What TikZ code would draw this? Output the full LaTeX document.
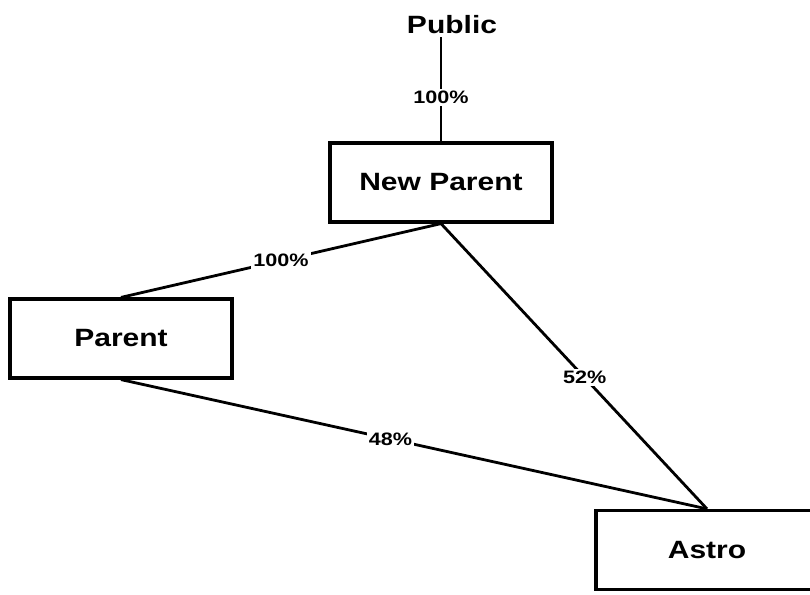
\documentclass[tikz,border=0pt]{standalone}
\usepackage{fontspec}
\setmainfont{Liberation Sans}[FakeStretch=1.2]
\begin{document}
\begin{tikzpicture}[x=1pt,y=-1pt,
  entity/.style={draw,line width=3.2pt,rectangle,minimum width=222pt,minimum height=79pt,
    inner sep=0pt,font=\fontsize{25}{30}\selectfont\bfseries},
  share/.style={fill=white,inner sep=2pt,font=\fontsize{18}{22}\selectfont\bfseries},
  link/.style={line width=2.8pt}]
  \clip (0,0) rectangle (810,594);
  \useasboundingbox (0,0) rectangle (810,594);

  % entities
  \node[font=\fontsize{25}{30}\selectfont\bfseries,inner sep=3pt] (public) at (452,25) {Public};
  \node[entity] (np) at (441,182.5) {New Parent};
  \node[entity] (parent) at (121,338.5) {Parent};
  \node[entity] (astro) at (707,550) {Astro};

  % ownership links
  \draw[link] (np.north |- public.south) -- node[share,pos=0.58] {100\%} (np.north);
  \draw[link] (np.south) -- node[share,pos=0.5] {100\%} (parent.north);
  \draw[link] (np.south) -- node[share,pos=0.54] {52\%} (astro.north);
  \draw[link] (parent.south) -- node[share,pos=0.46] {48\%} (astro.north);
\end{tikzpicture}
\end{document}
